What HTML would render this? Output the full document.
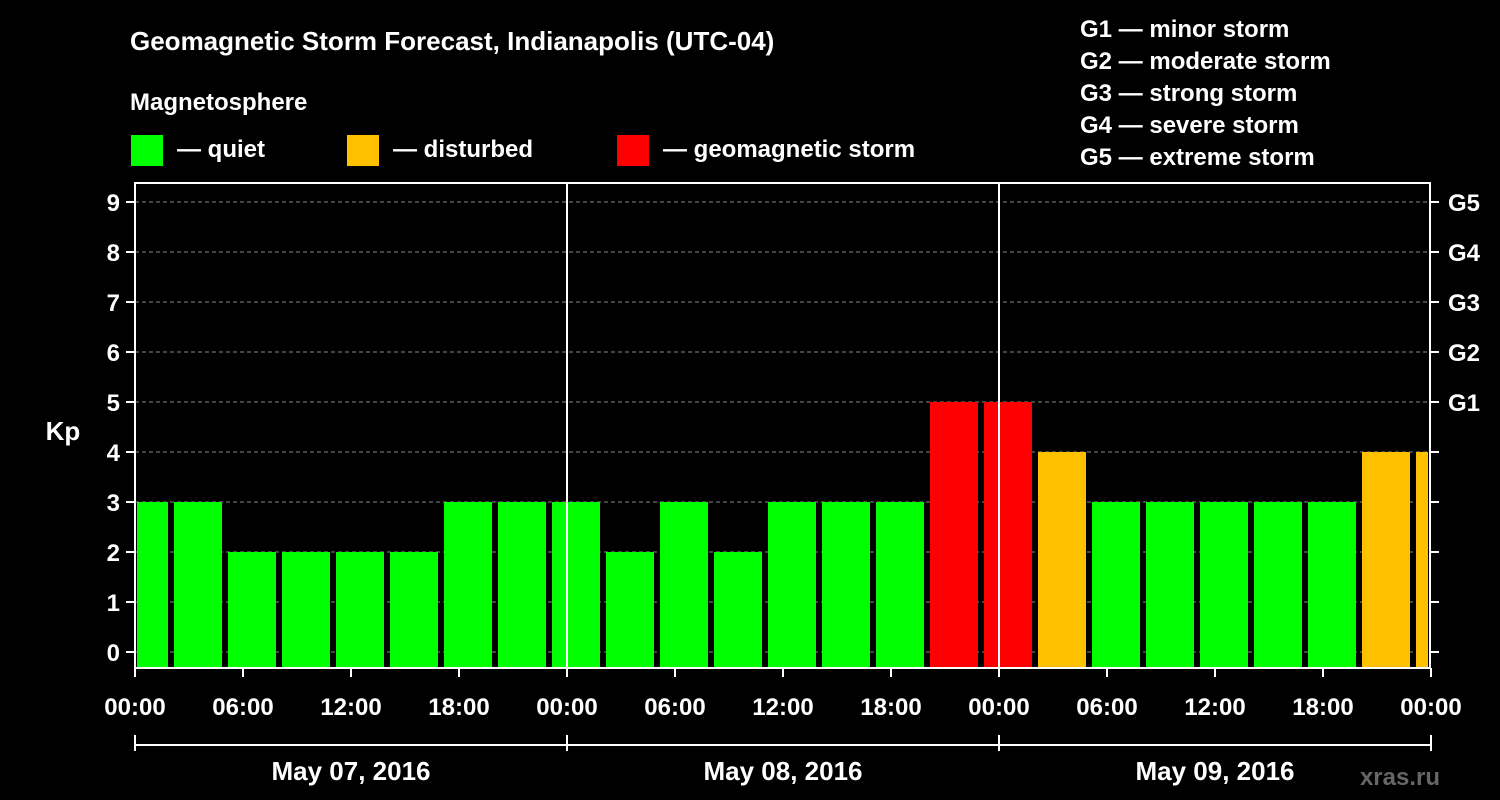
<!DOCTYPE html>
<html><head><meta charset="utf-8"><style>
html,body{margin:0;padding:0;background:#000;}
svg{display:block;font-family:"Liberation Sans",Arial,sans-serif;font-weight:bold;}
</style></head><body>
<svg width="1500" height="800" viewBox="0 0 1500 800">
<rect width="1500" height="800" fill="#000"/>
<text x="130" y="50" fill="#fff" font-size="26">Geomagnetic Storm Forecast, Indianapolis (UTC-04)</text>
<text x="130" y="110" fill="#fff" font-size="24">Magnetosphere</text>
<g><rect x="131" y="135" width="32" height="31" fill="#00ff00"/><text x="177" y="157" fill="#fff" font-size="24">— quiet</text></g>
<g><rect x="347" y="135" width="32" height="31" fill="#ffc000"/><text x="393" y="157" fill="#fff" font-size="24">— disturbed</text></g>
<g><rect x="617" y="135" width="32" height="31" fill="#ff0000"/><text x="663" y="157" fill="#fff" font-size="24">— geomagnetic storm</text></g>
<g fill="#fff" font-size="24">
<text x="1080" y="37">G1 — minor storm</text>
<text x="1080" y="69">G2 — moderate storm</text>
<text x="1080" y="101">G3 — strong storm</text>
<text x="1080" y="133">G4 — severe storm</text>
<text x="1080" y="165">G5 — extreme storm</text>
</g>
<text x="63" y="440" fill="#fff" font-size="26" text-anchor="middle">Kp</text>
<text x="1440" y="785" fill="#666" font-size="24" text-anchor="end">xras.ru</text>
<g id="plot"></g>
</svg>
<script>
const kpValues=[3,3,2,2,2,2,3,3,3,2,3,2,3,3,3,5,5,4,3,3,3,3,3,4,4];
const xTickLabels=["00:00","06:00","12:00","18:00","00:00","06:00","12:00","18:00","00:00","06:00","12:00","18:00","00:00"];
const yTickLabels=[0,1,2,3,4,5,6,7,8,9];
const gLabels=[[5,"G1"],[6,"G2"],[7,"G3"],[8,"G4"],[9,"G5"]];
const dateLabels=["May 07, 2016","May 08, 2016","May 09, 2016"];
const firstBinStart=-1, binHours=3;
const L=135,R=1430,T=183,B=668;
const X=h=>L+h*18;
const Y=v=>652-50*v;
const NS="http://www.w3.org/2000/svg";
const g=document.getElementById('plot');
function mk(t,a,p){const e=document.createElementNS(NS,t);for(const k in a)e.setAttribute(k,a[k]);(p||g).appendChild(e);return e;}
function col(v){return v>=5?"#ff0000":v>=4?"#ffc000":"#00ff00";}
// grid
yTickLabels.forEach(v=>{
 const l=mk('line',{x1:L,x2:R,y1:Y(v),y2:Y(v),stroke:'#888','stroke-dasharray':'4,3','stroke-width':1});
 
 
});
// bars
kpValues.forEach((v,i)=>{
 const s=firstBinStart+i*binHours;
 let x1=Math.max(X(s)+3,L+2), x2=Math.min(X(s+binHours)-3,R-2);
 const r=mk('rect',{x:x1,y:Y(v),width:x2-x1,height:B-Y(v),fill:col(v)});
 
 
});
// frame
const fr=mk('rect',{x:L,y:T,width:R-L,height:B-T,fill:'none',stroke:'#fff','stroke-width':2});


[24,48].forEach(h=>{const l=mk('line',{x1:X(h),x2:X(h),y1:T,y2:B,stroke:'#fff','stroke-width':2});
 
 });
// y ticks
yTickLabels.forEach(v=>{
 mk('line',{x1:L-9,x2:L,y1:Y(v),y2:Y(v),stroke:'#fff','stroke-width':2});
 mk('line',{x1:R,x2:R+9,y1:Y(v),y2:Y(v),stroke:'#fff','stroke-width':2});
 const t=mk('text',{x:L-15,y:Y(v)+9,fill:'#fff','font-size':24,'text-anchor':'end'});
 t.textContent=v;
 
 
});
gLabels.forEach(([v,s])=>{
 const t=mk('text',{x:R+18,y:Y(v)+9,fill:'#fff','font-size':24});
 t.textContent=s;
 
 
});
// x ticks
xTickLabels.forEach((s,i)=>{
 const x=X(i*6);
 mk('line',{x1:x,x2:x,y1:B,y2:B+9,stroke:'#fff','stroke-width':2});
 const t=mk('text',{x:x,y:715,fill:'#fff','font-size':24,'text-anchor':'middle'});
 t.textContent=s;
 
 
});
// date bracket
mk('line',{x1:L,x2:R,y1:745,y2:745,stroke:'#fff','stroke-width':2});
[0,24,48,72].forEach(h=>mk('line',{x1:X(h),x2:X(h),y1:735,y2:751,stroke:'#fff','stroke-width':2}));
dateLabels.forEach((s,i)=>{
 const t=mk('text',{x:X(i*24+12),y:780,fill:'#fff','font-size':26,'text-anchor':'middle'});
 t.textContent=s;
 
 
});
</script>
</body></html>
